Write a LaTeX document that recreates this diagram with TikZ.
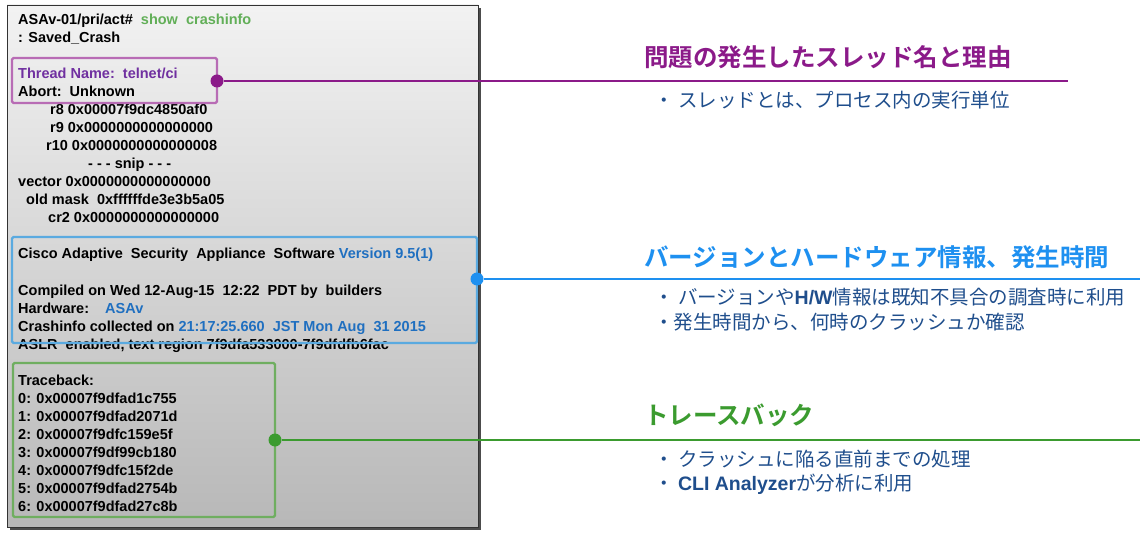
\documentclass[tikz,border=0pt]{standalone}
\usepackage{fontspec}
\setmainfont{Liberation Sans}
\newfontfamily\jp{Noto Sans CJK JP}
\newfontfamily\jpb{Noto Sans CJK JP Bold}
\begin{document}
\begin{tikzpicture}[x=1pt,y=-1pt,
  code/.style={anchor=base west,inner sep=0pt,font=\fontsize{14.5}{16}\selectfont\bfseries},
  head/.style={anchor=base west,inner sep=0pt,font=\fontsize{24.5}{28}\selectfont\jpb},
  bul/.style={anchor=base west,inner sep=0pt,text=bultxt,font=\fontsize{19.5}{22}\selectfont\jp},
  dot/.style={circle,fill,inner sep=0pt,minimum size=13pt}]
\definecolor{pur}{HTML}{8B1A89}
\definecolor{pbox}{HTML}{B86CB5}
\definecolor{blu}{HTML}{1E90F0}
\definecolor{bbox}{HTML}{5AAAE0}
\definecolor{vblue}{HTML}{1F6FC0}
\definecolor{grn}{HTML}{3B9B2F}
\definecolor{gbox}{HTML}{6FAE60}
\definecolor{pviolet}{HTML}{7030A0}
\definecolor{bultxt}{HTML}{1F4E8C}
\useasboundingbox (0,0) rectangle (1148,537);
\fill[black!70] (10,8) rectangle (481,530);
\shade[top color=black!5,bottom color=black!28] (7,5) rectangle (478,527);
\draw[black!80] (7,5) rectangle (478,527);
% code lines
\node[code] (l1) at (18,25) {ASAv-01/pri/act\#\ \ \textcolor{grn!80!white}{show\ \ crashinfo}};
\node[code] at (18,43) {: Saved\_Crash};
\node[code] at (18,79) {\textcolor{pviolet}{Thread Name:\ \ telnet/ci}};
\node[code] at (18,97) {Abort:\ \ Unknown};
\node[code] at (50,115) {r8 0x00007f9dc4850af0};
\node[code] at (50,133) {r9 0x0000000000000000};
\node[code] at (46,151) {r10 0x0000000000000008};
\node[code] at (88,169) {- - - snip - - -};
\node[code] at (18,187) {vector 0x0000000000000000};
\node[code] at (26,205) {old mask\ \ 0xffffffde3e3b5a05};
\node[code] at (48,223) {cr2 0x0000000000000000};
\node[code] at (18,259) {Cisco Adaptive\ \ Security\ \ Appliance\ \ Software \textcolor{vblue}{Version 9.5(1)}};
\node[code] at (18,295) {Compiled on Wed 12-Aug-15\ \ 12:22\ \ PDT by\ \ builders};
\node[code] at (18,313) {Hardware:\ \ \ \ \textcolor{vblue}{ASAv}};
\node[code] at (18,331) {Crashinfo collected on \textcolor{vblue}{21:17:25.660\ \ JST Mon Aug\ \ 31 2015}};
\node[code] at (18,349) {ASLR\ \ enabled, text region 7f9dfa533000-7f9dfdfb6fac};
\node[code] at (18,385) {Traceback:};
\node[code] at (18,403) {0: 0x00007f9dfad1c755};
\node[code] at (18,421) {1: 0x00007f9dfad2071d};
\node[code] at (18,439) {2: 0x00007f9dfc159e5f};
\node[code] at (18,457) {3: 0x00007f9df99cb180};
\node[code] at (18,475) {4: 0x00007f9dfc15f2de};
\node[code] at (18,493) {5: 0x00007f9dfad2754b};
\node[code] at (18,511) {6: 0x00007f9dfad27c8b};
% boxes
\draw[pbox,line width=2.2pt,rounded corners=1.5pt] (12,58) rectangle (217,103);
\draw[bbox,line width=2.2pt,rounded corners=1.5pt] (12,237) rectangle (477,343);
\draw[gbox,line width=2.2pt,rounded corners=1.5pt] (13,363) rectangle (275,517);
% connectors
\node[dot,pur] (d1) at (217,81) {};
\coordinate (e1) at (1068,81);
\draw[pur,line width=2pt] (d1) -- (e1);
\node[dot,blu] (d2) at (477,279) {};
\coordinate (e2) at (1140,279);
\draw[blu,line width=2pt] (d2) -- (e2);
\node[dot,grn] (d3) at (275,440) {};
\coordinate (e3) at (1140,440);
\draw[grn,line width=2pt] (d3) -- (e3);
% headings
\node[head,text=pur] at (644,67) {問題の発生したスレッド名と理由};
\node[bul] at (654,108) {・ スレッドとは、プロセス内の実行単位};
\node[head,text=blu] at (644,266) {バージョンとハードウェア情報、発生時間};
\node[bul] at (654,305) {・ バージョンや\textbf{\rmfamily H/W}情報は既知不具合の調査時に利用};
\node[bul] at (654,329) {・発生時間から、何時のクラッシュか確認};
\node[head,text=grn] at (644,424) {トレースバック};
\node[bul] at (654,466) {・ クラッシュに陥る直前までの処理};
\node[bul] at (654,490) {・ \textbf{\rmfamily CLI Analyzer}が分析に利用};
\end{tikzpicture}
\end{document}
